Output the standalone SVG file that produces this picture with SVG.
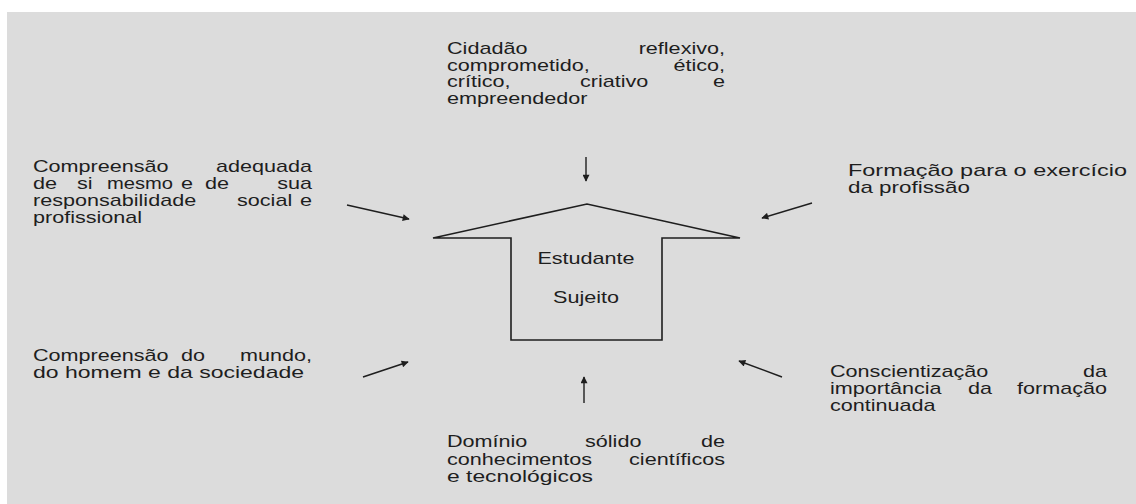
<svg xmlns="http://www.w3.org/2000/svg" width="1136" height="504" viewBox="0 0 1136 504">
<style>
  text { font-family: "Liberation Sans", Arial, sans-serif; font-size: 17px; fill: #1e1e1e; }
  .e { text-anchor: end; }
  .m { text-anchor: middle; }
  .conn line { stroke: #1e1e1e; stroke-width: 1.4; marker-end: url(#ah); }
</style>
<defs>
  <marker id="ah" viewBox="0 0 10 10" refX="9" refY="5" markerWidth="9" markerHeight="7" markerUnits="userSpaceOnUse" orient="auto">
    <path d="M0,0 L10,5 L0,10 z" fill="#1e1e1e"/>
  </marker>
</defs>
<rect x="7" y="12" width="1129" height="492" fill="#dcdcdc"/>

<g id="node-center">
  <polygon points="433,238 587,204 740,238 662,238 662,340 511,340 511,238" fill="none" stroke="#1e1e1e" stroke-width="1.6"/>
  <text class="m" transform="translate(586,264) scale(1.27,1)">Estudante</text>
  <text class="m" transform="translate(586,303) scale(1.27,1)">Sujeito</text>
</g>

<g id="node-top">
  <text transform="translate(447,54) scale(1.27,1)">Cidadão</text>
  <text class="e" transform="translate(725,54) scale(1.27,1)">reflexivo,</text>
  <text transform="translate(447,70.5) scale(1.27,1)">comprometido,</text>
  <text class="e" transform="translate(725,70.5) scale(1.27,1)">ético,</text>
  <text transform="translate(447,87) scale(1.27,1)">crítico,</text>
  <text transform="translate(580,87) scale(1.27,1)">criativo</text>
  <text class="e" transform="translate(725,87) scale(1.27,1)">e</text>
  <text transform="translate(447,103.5) scale(1.27,1)">empreendedor</text>
</g>

<g id="node-left-top">
  <text transform="translate(33,172) scale(1.27,1)">Compreensão</text>
  <text class="e" transform="translate(312,172) scale(1.27,1)">adequada</text>
  <text transform="translate(33,189) scale(1.27,1)">de</text>
  <text transform="translate(77,189) scale(1.27,1)">si</text>
  <text transform="translate(107,189) scale(1.27,1)" textLength="52" lengthAdjust="spacingAndGlyphs">mesmo</text>
  <text transform="translate(181,189) scale(1.27,1)">e</text>
  <text transform="translate(205,189) scale(1.27,1)">de</text>
  <text class="e" transform="translate(312,189) scale(1.27,1)">sua</text>
  <text transform="translate(33,206) scale(1.27,1)">responsabilidade</text>
  <text transform="translate(237,206) scale(1.27,1)">social</text>
  <text class="e" transform="translate(312,206) scale(1.27,1)">e</text>
  <text transform="translate(33,223) scale(1.27,1)">profissional</text>
</g>

<g id="node-right-top">
  <text transform="translate(848,176) scale(1.27,1)" textLength="219.7" lengthAdjust="spacingAndGlyphs">Formação para o exercício</text>
  <text transform="translate(848,193) scale(1.27,1)" textLength="96" lengthAdjust="spacingAndGlyphs">da profissão</text>
</g>

<g id="node-left-bottom">
  <text transform="translate(33,361) scale(1.27,1)">Compreensão</text>
  <text transform="translate(181,361) scale(1.27,1)">do</text>
  <text class="e" transform="translate(312,361) scale(1.27,1)">mundo,</text>
  <text transform="translate(33,378) scale(1.27,1)" textLength="213.4" lengthAdjust="spacingAndGlyphs">do homem e da sociedade</text>
</g>

<g id="node-right-bottom">
  <text transform="translate(830,377) scale(1.27,1)">Conscientização</text>
  <text class="e" transform="translate(1107,377) scale(1.27,1)">da</text>
  <text transform="translate(830,394) scale(1.27,1)">importância</text>
  <text transform="translate(968,394) scale(1.27,1)">da</text>
  <text class="e" transform="translate(1107,394) scale(1.27,1)">formação</text>
  <text transform="translate(830,411) scale(1.27,1)">continuada</text>
</g>

<g id="node-bottom">
  <text transform="translate(447,447) scale(1.27,1)">Domínio</text>
  <text transform="translate(585,447) scale(1.27,1)">sólido</text>
  <text class="e" transform="translate(725,447) scale(1.27,1)">de</text>
  <text transform="translate(447,464.5) scale(1.27,1)">conhecimentos</text>
  <text class="e" transform="translate(725,464.5) scale(1.27,1)">científicos</text>
  <text transform="translate(447,482) scale(1.27,1)" textLength="115" lengthAdjust="spacingAndGlyphs">e tecnológicos</text>
</g>

<g id="connectors" class="conn">
  <line x1="586" y1="157" x2="586" y2="181"/>
  <line x1="347" y1="205" x2="409" y2="219"/>
  <line x1="812" y1="203" x2="762" y2="218"/>
  <line x1="363" y1="377" x2="408" y2="362"/>
  <line x1="782" y1="377" x2="739" y2="361"/>
  <line x1="584" y1="403" x2="584" y2="377"/>
</g>
</svg>
